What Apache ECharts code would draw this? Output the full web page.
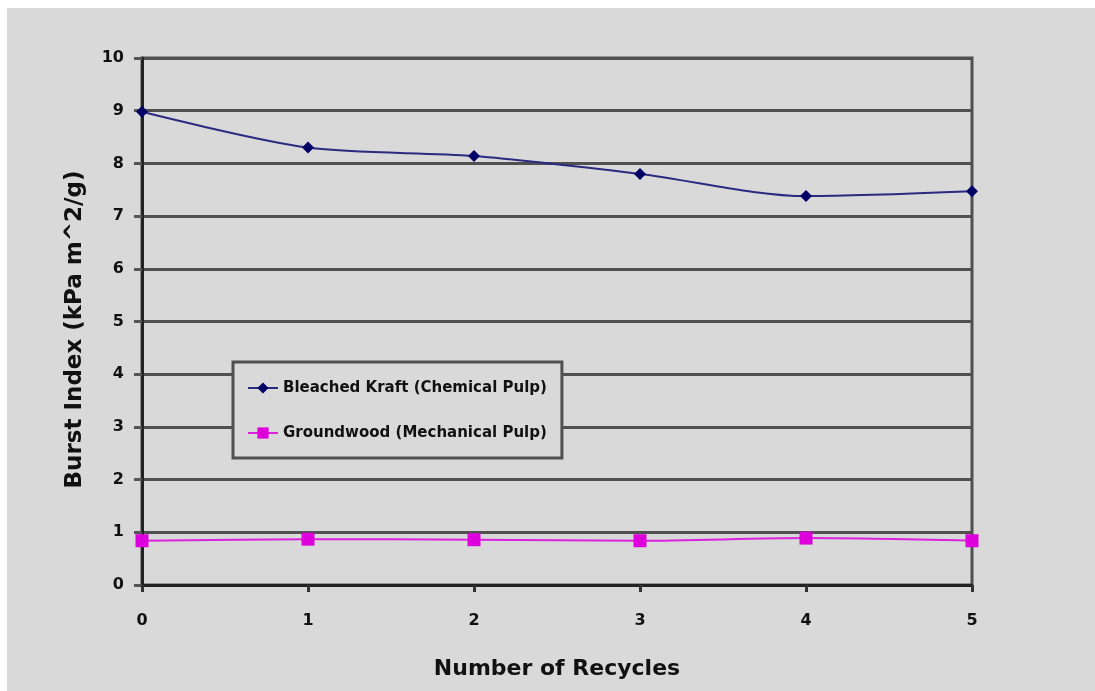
<!DOCTYPE html>
<html>
<head>
<meta charset="utf-8">
<script src="https://cdn.jsdelivr.net/npm/echarts@6/dist/echarts.min.js"></script>
<style>
  html, body { margin: 0; padding: 0; background: #ffffff; }
  #chart { position: absolute; left: 7px; top: 8px; width: 1088px; height: 683px; background: #d9d9d9; }
</style>
</head>
<body>
<div id="chart"></div>
<script>
// Burst index of recycled pulps over successive recycles
const recycles = ['0', '1', '2', '3', '4', '5'];
const bleachedKraft = [8.98, 8.30, 8.14, 7.80, 7.38, 7.47];
const groundwood = [0.84, 0.87, 0.86, 0.84, 0.89, 0.84];
const seriesNames = ['Bleached Kraft (Chemical Pulp)', 'Groundwood (Mechanical Pulp)'];

const chart = echarts.init(document.getElementById('chart'));
const labelFont = { fontFamily: 'DejaVu Sans, Verdana, sans-serif', fontWeight: 'bold', color: '#111' };

chart.setOption({
  backgroundColor: '#d9d9d9',
  animation: false,
  grid: {
    left: 135, right: 123, top: 50, bottom: 106,
    show: true, borderColor: '#505050', borderWidth: 3, backgroundColor: 'transparent'
  },
  legend: {
    orient: 'vertical',
    left: 226, top: 354,
    padding: [18, 15, 17, 14],
    itemGap: 29,
    itemWidth: 30, itemHeight: 14,
    borderColor: '#505050', borderWidth: 3,
    backgroundColor: '#d9d9d9',
    textStyle: Object.assign({}, labelFont, { fontSize: 15, lineHeight: 16 }),
    data: seriesNames
  },
  xAxis: {
    type: 'category',
    data: recycles,
    boundaryGap: false,
    name: 'Number of Recycles',
    nameLocation: 'middle',
    nameGap: 73,
    nameTextStyle: Object.assign({}, labelFont, { fontSize: 22 }),
    axisLine: { lineStyle: { color: '#222', width: 3 } },
    axisTick: { show: true, length: 7, lineStyle: { color: '#333', width: 3 } },
    axisLabel: Object.assign({}, labelFont, { fontSize: 16, margin: 28 }),
    splitLine: { show: false }
  },
  yAxis: {
    type: 'value',
    min: 0, max: 10, interval: 1,
    name: 'Burst Index (kPa m^2/g)',
    nameLocation: 'middle',
    nameRotate: 90,
    nameGap: 55,
    nameTextStyle: Object.assign({}, labelFont, { fontSize: 23, padding: [0, 16, 0, 0] }),
    axisLine: { show: true, lineStyle: { color: '#222', width: 3 } },
    axisTick: { show: true, length: 8, lineStyle: { color: '#555', width: 3 } },
    axisLabel: Object.assign({}, labelFont, { fontSize: 16, margin: 18 }),
    splitLine: { show: true, lineStyle: { color: '#505050', width: 3 } }
  },
  series: [
    {
      name: seriesNames[0],
      type: 'line',
      data: bleachedKraft,
      smooth: 0.3,
      symbol: 'diamond',
      symbolSize: 12,
      itemStyle: { color: '#000066' },
      lineStyle: { color: '#2a2a80', width: 2 }
    },
    {
      name: seriesNames[1],
      type: 'line',
      data: groundwood,
      smooth: 0.3,
      symbol: 'rect',
      symbolSize: 13,
      itemStyle: { color: '#dd00dd' },
      lineStyle: { color: '#dd22dd', width: 2 }
    }
  ]
});
</script>
</body>
</html>
